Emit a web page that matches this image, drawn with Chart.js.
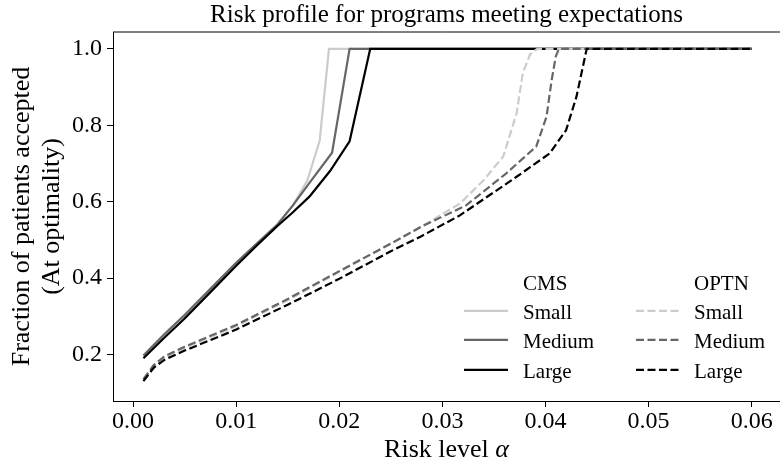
<!DOCTYPE html>
<html>
<head>
<meta charset="utf-8">
<script src="https://cdn.jsdelivr.net/npm/chart.js@4"></script>
<style>
  html, body { margin: 0; padding: 0; background: #fff; overflow: hidden; }
  #wrap { width: 780px; height: 468px; position: relative; }
</style>
</head>
<body>
<div id="wrap"><canvas id="riskChart"></canvas></div>
<script>
// Values
const xTicks = [0, 0.01, 0.02, 0.03, 0.04, 0.05, 0.06];
const yTicks = [0.2, 0.4, 0.6, 0.8, 1.0];
const sourceLabels = ['CMS', 'OPTN'];
const sizeLabels = ['Small', 'Medium', 'Large'];
const sizeColors = ['#cccccc', '#666666', '#000000'];

const cmsSmallAlpha = [0.001, 0.003, 0.005, 0.0075, 0.01, 0.012, 0.014, 0.0155, 0.0169, 0.0181, 0.019, 0.06];
const cmsSmallFrac  = [0.197, 0.252, 0.303, 0.372, 0.44, 0.49, 0.54, 0.59, 0.655, 0.76, 1.0, 1.0];
const cmsMediumAlpha = [0.001, 0.003, 0.005, 0.0075, 0.01, 0.012, 0.014, 0.0155, 0.017, 0.0193, 0.021, 0.06];
const cmsMediumFrac  = [0.197, 0.252, 0.303, 0.372, 0.44, 0.49, 0.54, 0.59, 0.645, 0.728, 1.0, 1.0];
const cmsLargeAlpha = [0.001, 0.003, 0.005, 0.0075, 0.01, 0.012, 0.014, 0.0155, 0.0171, 0.0191, 0.021, 0.023, 0.06];
const cmsLargeFrac  = [0.19, 0.243, 0.294, 0.363, 0.432, 0.485, 0.536, 0.572, 0.613, 0.68, 0.758, 1.0, 1.0];

const optnSmallAlpha = [0.001, 0.002, 0.003, 0.005, 0.01, 0.015, 0.02, 0.025, 0.028, 0.0317, 0.034, 0.0359, 0.0372, 0.0378, 0.0385, 0.0392, 0.06];
const optnSmallFrac  = [0.132, 0.168, 0.19, 0.217, 0.274, 0.342, 0.416, 0.49, 0.535, 0.595, 0.656, 0.718, 0.831, 0.936, 0.985, 1.0, 1.0];
const optnMediumAlpha = [0.001, 0.002, 0.003, 0.005, 0.01, 0.015, 0.02, 0.025, 0.028, 0.0323, 0.0362, 0.0391, 0.0401, 0.0406, 0.041, 0.0413, 0.06];
const optnMediumFrac  = [0.135, 0.172, 0.194, 0.22, 0.277, 0.345, 0.418, 0.49, 0.535, 0.59, 0.674, 0.744, 0.822, 0.918, 0.98, 1.0, 1.0];
const optnLargeAlpha = [0.001, 0.002, 0.003, 0.005, 0.01, 0.015, 0.02, 0.025, 0.028, 0.0317, 0.0372, 0.0404, 0.042, 0.043, 0.0437, 0.044, 0.06];
const optnLargeFrac  = [0.13, 0.165, 0.185, 0.21, 0.265, 0.33, 0.398, 0.47, 0.51, 0.564, 0.665, 0.726, 0.787, 0.874, 0.962, 1.0, 1.0];

const SERIF = '"Liberation Serif", "Times New Roman", serif';
const LINE_W = 2.2;
const DASH = [8, 3.5];

const series = [
  { source: 0, size: 0, alpha: cmsSmallAlpha, frac: cmsSmallFrac },
  { source: 0, size: 1, alpha: cmsMediumAlpha, frac: cmsMediumFrac },
  { source: 0, size: 2, alpha: cmsLargeAlpha, frac: cmsLargeFrac },
  { source: 1, size: 0, alpha: optnSmallAlpha, frac: optnSmallFrac },
  { source: 1, size: 1, alpha: optnMediumAlpha, frac: optnMediumFrac },
  { source: 1, size: 2, alpha: optnLargeAlpha, frac: optnLargeFrac },
];

const datasets = series.map((s, i) => ({
  label: sourceLabels[s.source] + ' ' + sizeLabels[s.size],
  data: s.alpha.map((a, k) => ({ x: a, y: s.frac[k] })),
  borderColor: sizeColors[s.size],
  borderWidth: LINE_W,
  borderDash: s.source === 1 ? DASH : [],
  pointRadius: 0,
  tension: 0,
  fill: false,
  order: series.length - i, // later series drawn on top, like matplotlib
}));

// x-axis title with italic alpha, the split legend and the top spine
const figureExtras = {
  id: 'figureExtras',
  afterDraw(chart) {
    const { ctx, chartArea } = chart;
    ctx.save();

    ctx.strokeStyle = '#000';
    ctx.lineWidth = 1;
    ctx.beginPath();
    ctx.moveTo(chartArea.left, Math.round(chartArea.top));
    ctx.lineTo(chartArea.right, Math.round(chartArea.top));
    ctx.stroke();

    ctx.fillStyle = '#000';
    ctx.textBaseline = 'alphabetic';
    ctx.textAlign = 'left';
    const plain = 'Risk level ';
    const greek = 'α';
    ctx.font = `26px ${SERIF}`;
    const wPlain = ctx.measureText(plain).width;
    ctx.font = `italic 26px ${SERIF}`;
    const wGreek = ctx.measureText(greek).width;
    const x0 = (chartArea.left + chartArea.right) / 2 - (wPlain + wGreek) / 2;
    ctx.font = `26px ${SERIF}`;
    ctx.fillText(plain, x0, 457);
    ctx.font = `italic 26px ${SERIF}`;
    ctx.fillText(greek, x0 + wPlain, 457);

    // legend: two columns, header row then one row per size
    const cols = [{ handle: 464, text: 523 }, { handle: 636, text: 694 }];
    const rows = [290, 319.3, 348.3, 378.3];
    ctx.font = `21px ${SERIF}`;
    sourceLabels.forEach((src, c) => {
      ctx.fillStyle = '#000';
      ctx.fillText(src, cols[c].text, rows[0]);
      sizeLabels.forEach((sz, r) => {
        const y = rows[r + 1];
        ctx.strokeStyle = sizeColors[r];
        ctx.lineWidth = LINE_W;
        ctx.setLineDash(c === 1 ? DASH : []);
        ctx.beginPath();
        ctx.moveTo(cols[c].handle, y - 8.5);
        ctx.lineTo(cols[c].handle + 44, y - 8.5);
        ctx.stroke();
        ctx.setLineDash([]);
        ctx.fillStyle = '#000';
        ctx.fillText(sz, cols[c].text, y);
      });
    });
    ctx.restore();
  },
};

new Chart(document.getElementById('riskChart'), {
  type: 'line',
  data: { datasets },
  plugins: [figureExtras],
  options: {
    responsive: true,
    maintainAspectRatio: false,
    animation: false,
    layout: { padding: 0 },
    plugins: {
      legend: { display: false },
      tooltip: { enabled: false },
      title: {
        display: true,
        fullSize: false,
        text: 'Risk profile for programs meeting expectations',
        color: '#000',
        font: { family: SERIF, size: 25, weight: 'normal', lineHeight: 1.2 },
        padding: { top: 0, bottom: 2 },
      },
    },
    scales: {
      x: {
        type: 'linear',
        min: -0.00195,
        max: 0.06275,
        afterBuildTicks: (scale) => { scale.ticks = xTicks.map((v) => ({ value: v })); },
        afterFit: (scale) => { scale.height = 67; },
        ticks: {
          color: '#000',
          padding: 0,
          font: { family: SERIF, size: 24 },
          callback: (v) => v.toFixed(2),
        },
        grid: { drawOnChartArea: false, tickLength: 6, tickColor: '#000' },
        border: { color: '#000', width: 1 },
      },
      y: {
        min: 0.078,
        max: 1.044,
        afterBuildTicks: (scale) => { scale.ticks = yTicks.map((v) => ({ value: v })); },
        afterFit: (scale) => { scale.width = 113; },
        ticks: {
          color: '#000',
          padding: 5,
          font: { family: SERIF, size: 24 },
          callback: (v) => v.toFixed(1),
        },
        grid: { drawOnChartArea: false, tickLength: 6, tickColor: '#000' },
        border: { color: '#000', width: 1 },
        title: {
          display: true,
          text: ['Fraction of patients accepted', '(At optimality)'],
          color: '#000',
          font: { family: SERIF, size: 26, lineHeight: 1.15 },
          padding: { top: 7, bottom: 0 },
        },
      },
    },
  },
});
</script>
</body>
</html>
